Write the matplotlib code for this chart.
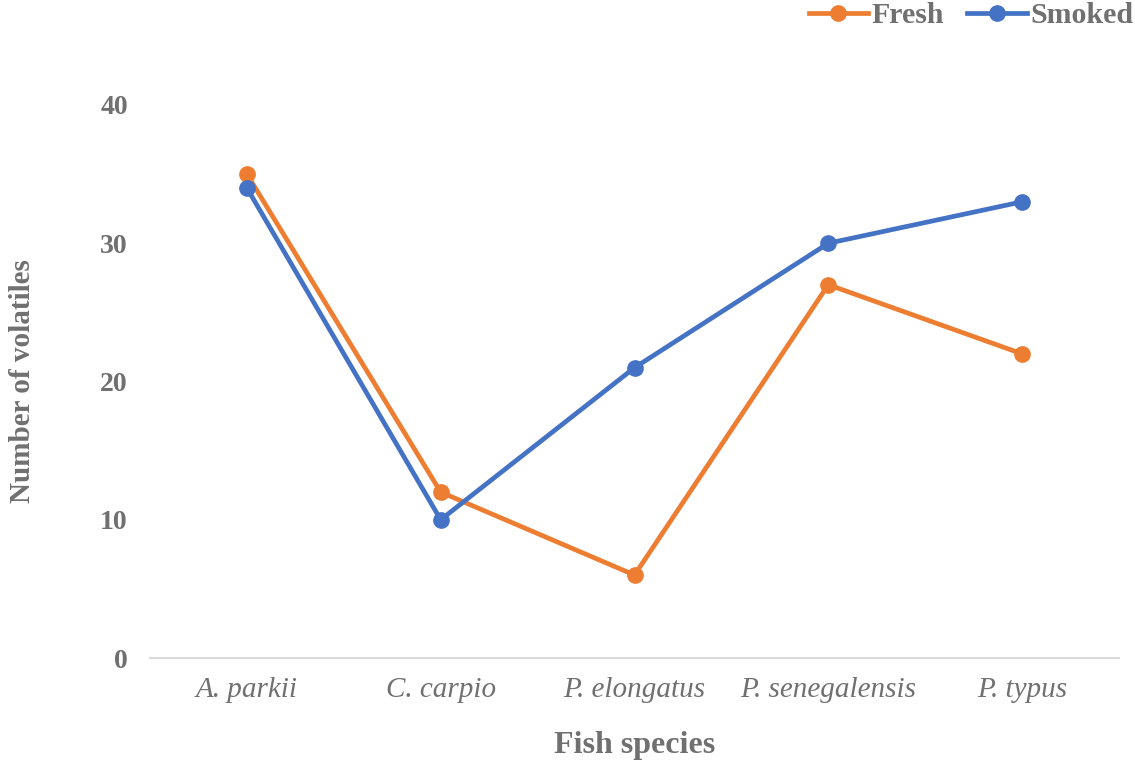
import matplotlib
matplotlib.use("Agg")
import matplotlib.pyplot as plt

species = ["A. parkii", "C. carpio", "P. elongatus", "P. senegalensis", "P. typus"]
fresh = [35, 12, 6, 27, 22]
smoked = [34, 10, 21, 30, 33]
yticks = [0, 10, 20, 30, 40]

gray = "#707070"
plt.rcParams['font.family'] = ['Liberation Serif', 'DejaVu Serif']

fig = plt.figure(figsize=(11.35, 7.65), dpi=100)
ax = fig.add_axes([150/1135, 1-658/765, (1119-150)/1135, (658-105)/765])

x = list(range(len(species)))
ax.plot(x, fresh, color="#ED7D31", lw=3.4, marker="o", ms=11, label="Fresh", clip_on=False, zorder=3)
ax.plot(x, smoked, color="#4472C4", lw=3.4, marker="o", ms=11, label="Smoked", clip_on=False, zorder=4)

ax.set_xlim(-0.5, len(species) - 0.5)
ax.set_ylim(0, 40)
ax.set_yticks(yticks)
ax.set_yticklabels([str(v) for v in yticks], fontsize=20, fontweight="bold", color=gray)
ax.set_xticks(x)
ax.set_xticklabels(species, fontsize=21, fontstyle="italic", color=gray)
ax.tick_params(axis="both", length=0)
ax.tick_params(axis="y", pad=16)
ax.tick_params(axis="x", pad=14)
for s in ["top", "right", "left"]:
    ax.spines[s].set_visible(False)
ax.spines["bottom"].set_color("#d9d9d9")
ax.spines["bottom"].set_linewidth(1.5)

ax.set_xlabel("Fish species", fontsize=23, fontweight="bold", color=gray, labelpad=20)
ax.set_ylabel("Number of volatiles", fontsize=21, fontweight="bold", color=gray, labelpad=46)

leg = fig.legend(loc="upper right", bbox_to_anchor=(1.022, 1.032), ncol=2, frameon=False,
                 prop={"size": 21.5, "weight": "bold"}, handlelength=2.0, columnspacing=0.75,
                 handletextpad=0.12)
for t in leg.get_texts():
    t.set_color(gray)

fig.savefig("out.png", dpi=100)
